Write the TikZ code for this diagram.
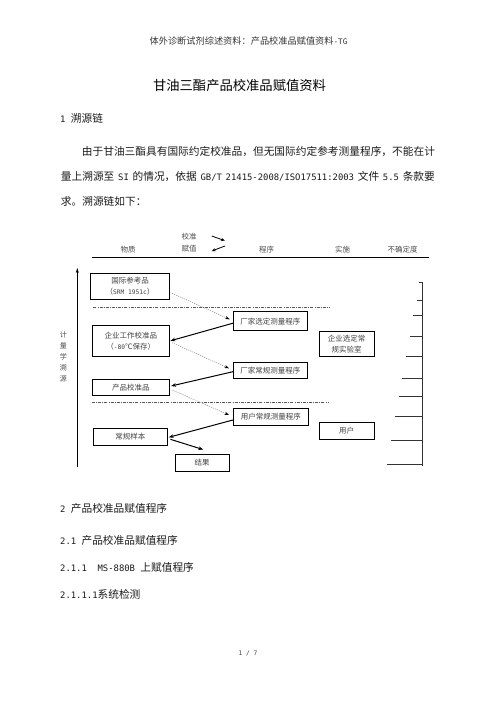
\documentclass[tikz,border=0pt]{standalone}
\usepackage{fontspec}
\setmainfont{Noto Sans CJK SC}
\newfontfamily\mono[Scale=0.83]{DejaVu Sans Mono}
\usetikzlibrary{arrows.meta,calc}
\newcommand\bsz{\fontsize{10.7pt}{13pt}\selectfont}
\newcommand\dsz{\fontsize{7.5pt}{11pt}\selectfont}
\begin{document}
\begin{tikzpicture}[x=1pt,y=-1pt,
  txt/.style={inner sep=0pt, font=\bsz, text=black!90},
  lab/.style={inner sep=0pt, font=\dsz, text=black!70},
  box/.style={draw, line width=0.8pt, inner sep=0pt, font=\dsz, text=black!75, align=center},
  dotarr/.style={draw=black!55, line width=0.4pt, dash pattern=on 1.2pt off 1pt, -{Stealth[length=4.5pt,width=3.2pt,black]}},
  solarr/.style={line width=1pt, -{Stealth[length=5pt,width=3.6pt]}},
  hdarr/.style={line width=0.8pt, -{Stealth[length=4pt,width=3pt]}},
  dashdot/.style={draw=black!65, line width=0.6pt, dash pattern=on 3pt off 1.2pt on 0.8pt off 1.2pt},
  tick/.style={line width=0.6pt, draw=black!80}]
\useasboundingbox (0,0) rectangle (496,702);
% header and title
\node[inner sep=0pt, font=\fontsize{9.2pt}{11pt}\selectfont, text=black!80] (hdr) at (248.5,41) {体外诊断试剂综述资料：产品校准品赋值资料{\mono -TG}};
\node[inner sep=0pt, font=\fontsize{13.3pt}{15pt}\selectfont] (title) at (239.5,85) {甘油三酯产品校准品赋值资料};
\node[txt, anchor=west] (s1) at (60,118) {{\mono 1 }溯源链};
\node[txt, anchor=west] (p1l) at (81.7,151.7) {由于甘油三酯具有国际约定校准品，但无国际约定参考测量程序，不能在计};
\node[txt, anchor=west] (p2l) at (60.7,176.7) {\makebox[374pt][s]{量上溯源至{\mono{} }{\mono SI}{\mono{} }的情况，依据{\mono{} }{\mono GB/T 21415-2008/ISO17511:2003}{\mono{} }文件{\mono{} }{\mono 5.5}{\mono{} }条款要}};
\node[txt, anchor=west] (p3l) at (60.7,201) {求。溯源链如下：};
% diagram header
\node[lab] (h1) at (128,250) {物质};
\node[lab] (h2a) at (189,237) {校准};
\node[lab] (h2b) at (189,249) {赋值};
\node[lab] (h3) at (266.7,250) {程序};
\node[lab] (h4) at (342.7,250) {实施};
\node[lab] (h5) at (402.7,250) {不确定度};
\coordinate (ha1) at (211.7,236);
\coordinate (ha2) at (225,240.7);
\coordinate (ha3) at (225,246);
\coordinate (ha4) at (211.7,251);
\draw[hdarr] (ha1) -- (ha2);
\draw[hdarr] (ha3) -- (ha4);
\coordinate (hl1) at (91.7,257.7);
\coordinate (hl2) at (429.3,257.7);
\draw[line width=0.8pt] (hl1) -- (hl2);
% vertical axis
\coordinate (va1) at (77.3,466.7);
\coordinate (va2) at (77.3,268);
\draw[line width=0.8pt, -{Stealth[length=5pt,width=3pt]}] (va1) -- (va2);
\node[lab, align=center, font=\fontsize{7pt}{11pt}\selectfont] (vt) at (63.3,357) {计\\量\\学\\溯\\源};
% boxes
\node[box, minimum width=78.6pt, minimum height=26pt] (b1) at (130,286.3) {国际参考品\\（{\mono SRM 1951c}）};
\node[box, minimum width=77pt, minimum height=31.7pt] (b2) at (130.8,340.8) {企业工作校准品\\（{\mono -80}℃保存）};
\node[box, minimum width=77pt, minimum height=15.7pt] (b3) at (130.8,387.2) {产品校准品};
\node[box, minimum width=74pt, minimum height=16.7pt] (b4) at (130.3,436.7) {常规样本};
\node[box, minimum width=74pt, minimum height=19pt] (q1) at (270.3,321.2) {厂家选定测量程序};
\node[box, minimum width=74pt, minimum height=15.6pt] (q2) at (270.3,370.5) {厂家常规测量程序};
\node[box, minimum width=75pt, minimum height=16.7pt] (q3) at (270.8,416.7) {用户常规测量程序};
\node[box, minimum width=54.3pt, minimum height=17.4pt] (res) at (202.2,463) {结果};
\node[box, minimum width=54.7pt, minimum height=24.3pt] (i1) at (346.7,343.8) {企业选定常\\规实验室};
\node[box, minimum width=54.7pt, minimum height=17pt] (i2) at (346.7,430.8) {用户};
% dash-dot separators
\coordinate (d1a) at (93.3,307.3);
\coordinate (d1b) at (330,307.3);
\coordinate (d2a) at (92,402.7);
\coordinate (d2b) at (328,402.7);
\draw[dashdot] (d1a) -- (d1b);
\draw[dashdot] (d2a) -- (d2b);
% arrows
\draw[dotarr] ([xshift=2.4pt,yshift=-7pt]b1.east) -- ([xshift=-3.3pt,yshift=1.9pt]q1.west);
\draw[solarr] ([yshift=-2pt]q1.west) -- ([xshift=0.7pt]b2.east);
\draw[dotarr] ([xshift=2.4pt,yshift=-1.9pt]b2.east) -- ([xshift=-4pt,yshift=2.2pt]q2.west);
\draw[solarr] ([yshift=-1.2pt]q2.west) -- ([xshift=1.4pt,yshift=1.2pt]b3.east);
\draw[dotarr] ([xshift=2.7pt,yshift=-2.8pt]b3.east) -- ([xshift=-4pt,yshift=1.7pt]q3.west);
\draw[solarr] ([yshift=-3.3pt]q3.west) -- ([xshift=1pt,yshift=-0.6pt]b4.east);
\draw[solarr] ([xshift=2.7pt,yshift=-2.6pt]b4.east) -- ([xshift=1.1pt,yshift=4.3pt]res.north);
% uncertainty scale
\coordinate (ua) at (422.3,282.3);
\coordinate (ub) at (422.3,466);
\draw[tick] (ua) -- (ub);
\foreach \xx/\yy [count=\k] in {419.3/282.3, 417.3/300.7, 413.3/315.7, 410/336.3, 406/356.3, 402/378, 399/396, 395/416, 391/440.3, 387.3/464.3}{
  \coordinate (t\k a) at (\xx,\yy);
  \coordinate (t\k b) at (422.3,\yy);
  \draw[tick] (t\k a) -- (t\k b);
}
% section 2
\node[txt, anchor=west] (s2) at (60,508.3) {{\mono 2 }产品校准品赋值程序};
\node[txt, anchor=west] (s21) at (60,540.7) {{\mono 2.1 }产品校准品赋值程序};
\node[txt, anchor=west] (s211) at (60,567.3) {{\mono 2.1.1\ \ MS-880B }上赋值程序};
\node[txt, anchor=west] (s2111) at (60,594) {{\mono 2.1.1.1}系统检测};
\node[inner sep=0pt, font=\fontsize{7.5pt}{9pt}\selectfont, text=black!75] (pg) at (248,654) {{\mono 1 / 7}};
\end{tikzpicture}
\end{document}
